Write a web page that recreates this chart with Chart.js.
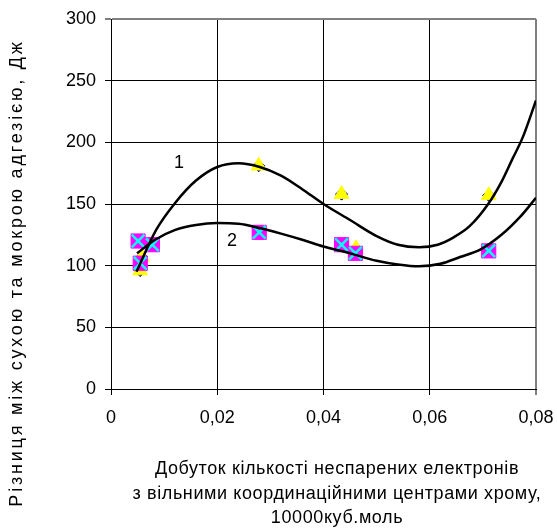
<!DOCTYPE html>
<html>
<head>
<meta charset="utf-8">
<script src="https://cdn.jsdelivr.net/npm/chart.js@4/dist/chart.umd.min.js"></script>
<style>
  html, body { margin: 0; padding: 0; background: #fff; }
  #wrap { width: 557px; height: 530px; }
</style>
</head>
<body>
<div id="wrap"><canvas id="adhesionChart" width="557" height="530"></canvas></div>
<script>
// Measured points, curve 1 (navy diamonds under yellow triangles)
const pointsX1 = [0.0055, 0.0058, 0.0278, 0.0434, 0.0461, 0.0711];
const pointsY1 = [96, 107, 181, 158, 114, 157];

// Measured points, curve 2 (magenta squares under cyan crosses)
const pointsX2 = [0.0051, 0.0078, 0.0055, 0.0279, 0.0434, 0.0460, 0.0711];
const pointsY2 = [120, 117, 102, 127, 117, 110, 112];

// Trend lines
const curveX1 = [0.0048, 0.0085, 0.0121, 0.016, 0.020, 0.024, 0.028, 0.032, 0.036, 0.040, 0.045, 0.050, 0.054, 0.058, 0.0615, 0.0645, 0.0675, 0.071, 0.0735, 0.0755, 0.0775, 0.080];
const curveY1 = [95, 129, 151, 169, 180, 183, 180, 173, 162, 150, 137, 124, 117, 115, 117, 123, 132, 150, 168, 186, 204, 234];
const curveX2 = [0.0049, 0.0083, 0.0121, 0.016, 0.020, 0.024, 0.028, 0.032, 0.036, 0.040, 0.045, 0.050, 0.054, 0.058, 0.062, 0.0657, 0.0695, 0.0735, 0.077, 0.080];
const curveY2 = [110, 121, 129, 133, 134.5, 134, 130.5, 126, 121, 115.5, 110, 104, 101, 99.5, 101.5, 107, 113, 125, 139.5, 155];

// Curve numbers placed in data units
const curveLabels = ['1', '2'];
const curveLabelX = [0.0128, 0.0228];
const curveLabelY = [183, 120];

const xTickLabels = ['0', '0,02', '0,04', '0,06', '0,08'];
const yTickLabels = ['0', '50', '100', '150', '200', '250', '300'];

const yTitle = 'Різниця між сухою та мокрою адгезією, Дж';
const xTitleLines = [
    'Добуток кількості неспарених електронів',
    'з вільними координаційними центрами хрому,',
    '10000куб.моль'
];

const FONT = '"Liberation Sans", Arial, sans-serif';

function toXY(xs, ys) {
    return xs.map((x, i) => ({ x: x, y: ys[i] }));
}

// Axis titles and curve numbers
const textPlugin = {
    id: 'textPlugin',
    afterDraw(chart) {
        const ctx = chart.ctx;
        const xs = chart.scales.x;
        const ys = chart.scales.y;
        ctx.save();
        ctx.fillStyle = '#000';
        ctx.font = '18px ' + FONT;
        ctx.textAlign = 'center';

        ctx.textBaseline = 'middle';
        curveLabels.forEach((t, i) => {
            ctx.fillText(t, xs.getPixelForValue(curveLabelX[i]), ys.getPixelForValue(curveLabelY[i]));
        });

        ctx.textBaseline = 'alphabetic';
        if ('letterSpacing' in ctx) ctx.letterSpacing = '0.6px';
        xTitleLines.forEach((line, i) => {
            ctx.fillText(line, 337, 474 + i * 24.5);
        });

        if ('letterSpacing' in ctx) ctx.letterSpacing = '2.8px';
        ctx.translate(22, 273);
        ctx.rotate(-Math.PI / 2);
        ctx.fillText(yTitle, 0, 0);
        ctx.restore();
    }
};

function isEnd(c, max) {
    return c.tick && c.tick.value >= max - 1e-9;
}

const ctx = document.getElementById('adhesionChart').getContext('2d');

new Chart(ctx, {
    type: 'scatter',
    data: {
        datasets: [
            {
                label: 'curve1',
                type: 'line',
                data: toXY(curveX1, curveY1),
                borderColor: '#000',
                borderWidth: 2.5,
                pointRadius: 0,
                fill: false,
                cubicInterpolationMode: 'monotone',
                order: 0
            },
            {
                label: 'curve2',
                type: 'line',
                data: toXY(curveX2, curveY2),
                borderColor: '#000',
                borderWidth: 2.5,
                pointRadius: 0,
                fill: false,
                cubicInterpolationMode: 'monotone',
                order: 0
            },
            {
                label: 'diamonds',
                data: toXY(pointsX1, pointsY1),
                pointStyle: 'rectRot',
                pointRadius: 6,
                backgroundColor: '#000080',
                borderColor: '#000080',
                borderWidth: 1,
                order: 4
            },
            {
                label: 'triangles',
                data: toXY(pointsX1, pointsY1),
                pointStyle: 'triangle',
                pointRadius: 8.5,
                backgroundColor: '#FFFF00',
                borderColor: '#FFFF00',
                borderWidth: 1,
                order: 3
            },
            {
                label: 'squares',
                data: toXY(pointsX2, pointsY2),
                pointStyle: 'rect',
                pointRadius: 10,
                backgroundColor: '#FF00FF',
                borderColor: '#FF00FF',
                borderWidth: 1,
                order: 2
            },
            {
                label: 'crosses',
                data: toXY(pointsX2, pointsY2),
                pointStyle: 'crossRot',
                pointRadius: 9,
                backgroundColor: '#00FFFF',
                borderColor: '#00FFFF',
                borderWidth: 2.5,
                order: 1
            }
        ]
    },
    options: {
        responsive: false,
        animation: false,
        devicePixelRatio: 1,
        layout: {
            padding: { left: 0, top: 19, right: 21, bottom: 0 }
        },
        plugins: {
            legend: { display: false },
            tooltip: { enabled: false }
        },
        scales: {
            x: {
                type: 'linear',
                min: 0,
                max: 0.08,
                afterFit: function (scale) {
                    scale.height = 141;
                    scale.paddingLeft = 0;
                    scale.paddingRight = 0;
                },
                ticks: {
                    stepSize: 0.02,
                    padding: 12,
                    color: '#000',
                    font: { family: FONT, size: 18 },
                    maxRotation: 0,
                    callback: function (value, index) {
                        return xTickLabels[index];
                    }
                },
                grid: {
                    color: (c) => (isEnd(c, 0.08) ? '#808080' : '#000'),
                    lineWidth: (c) => (isEnd(c, 0.08) ? 2 : 1),
                    tickLength: 6
                },
                border: { color: '#000', width: 1 }
            },
            y: {
                min: 0,
                max: 300,
                afterFit: function (scale) {
                    scale.width = 111;
                    scale.paddingTop = 0;
                    scale.paddingBottom = 0;
                },
                ticks: {
                    stepSize: 50,
                    padding: 9,
                    color: '#000',
                    font: { family: FONT, size: 18 },
                    callback: function (value, index) {
                        return yTickLabels[index];
                    }
                },
                grid: {
                    color: (c) => (isEnd(c, 300) ? '#808080' : '#000'),
                    lineWidth: (c) => (isEnd(c, 300) ? 2 : 1),
                    tickLength: 6
                },
                border: { color: '#000', width: 1 }
            }
        }
    },
    plugins: [textPlugin]
});
</script>
</body>
</html>
